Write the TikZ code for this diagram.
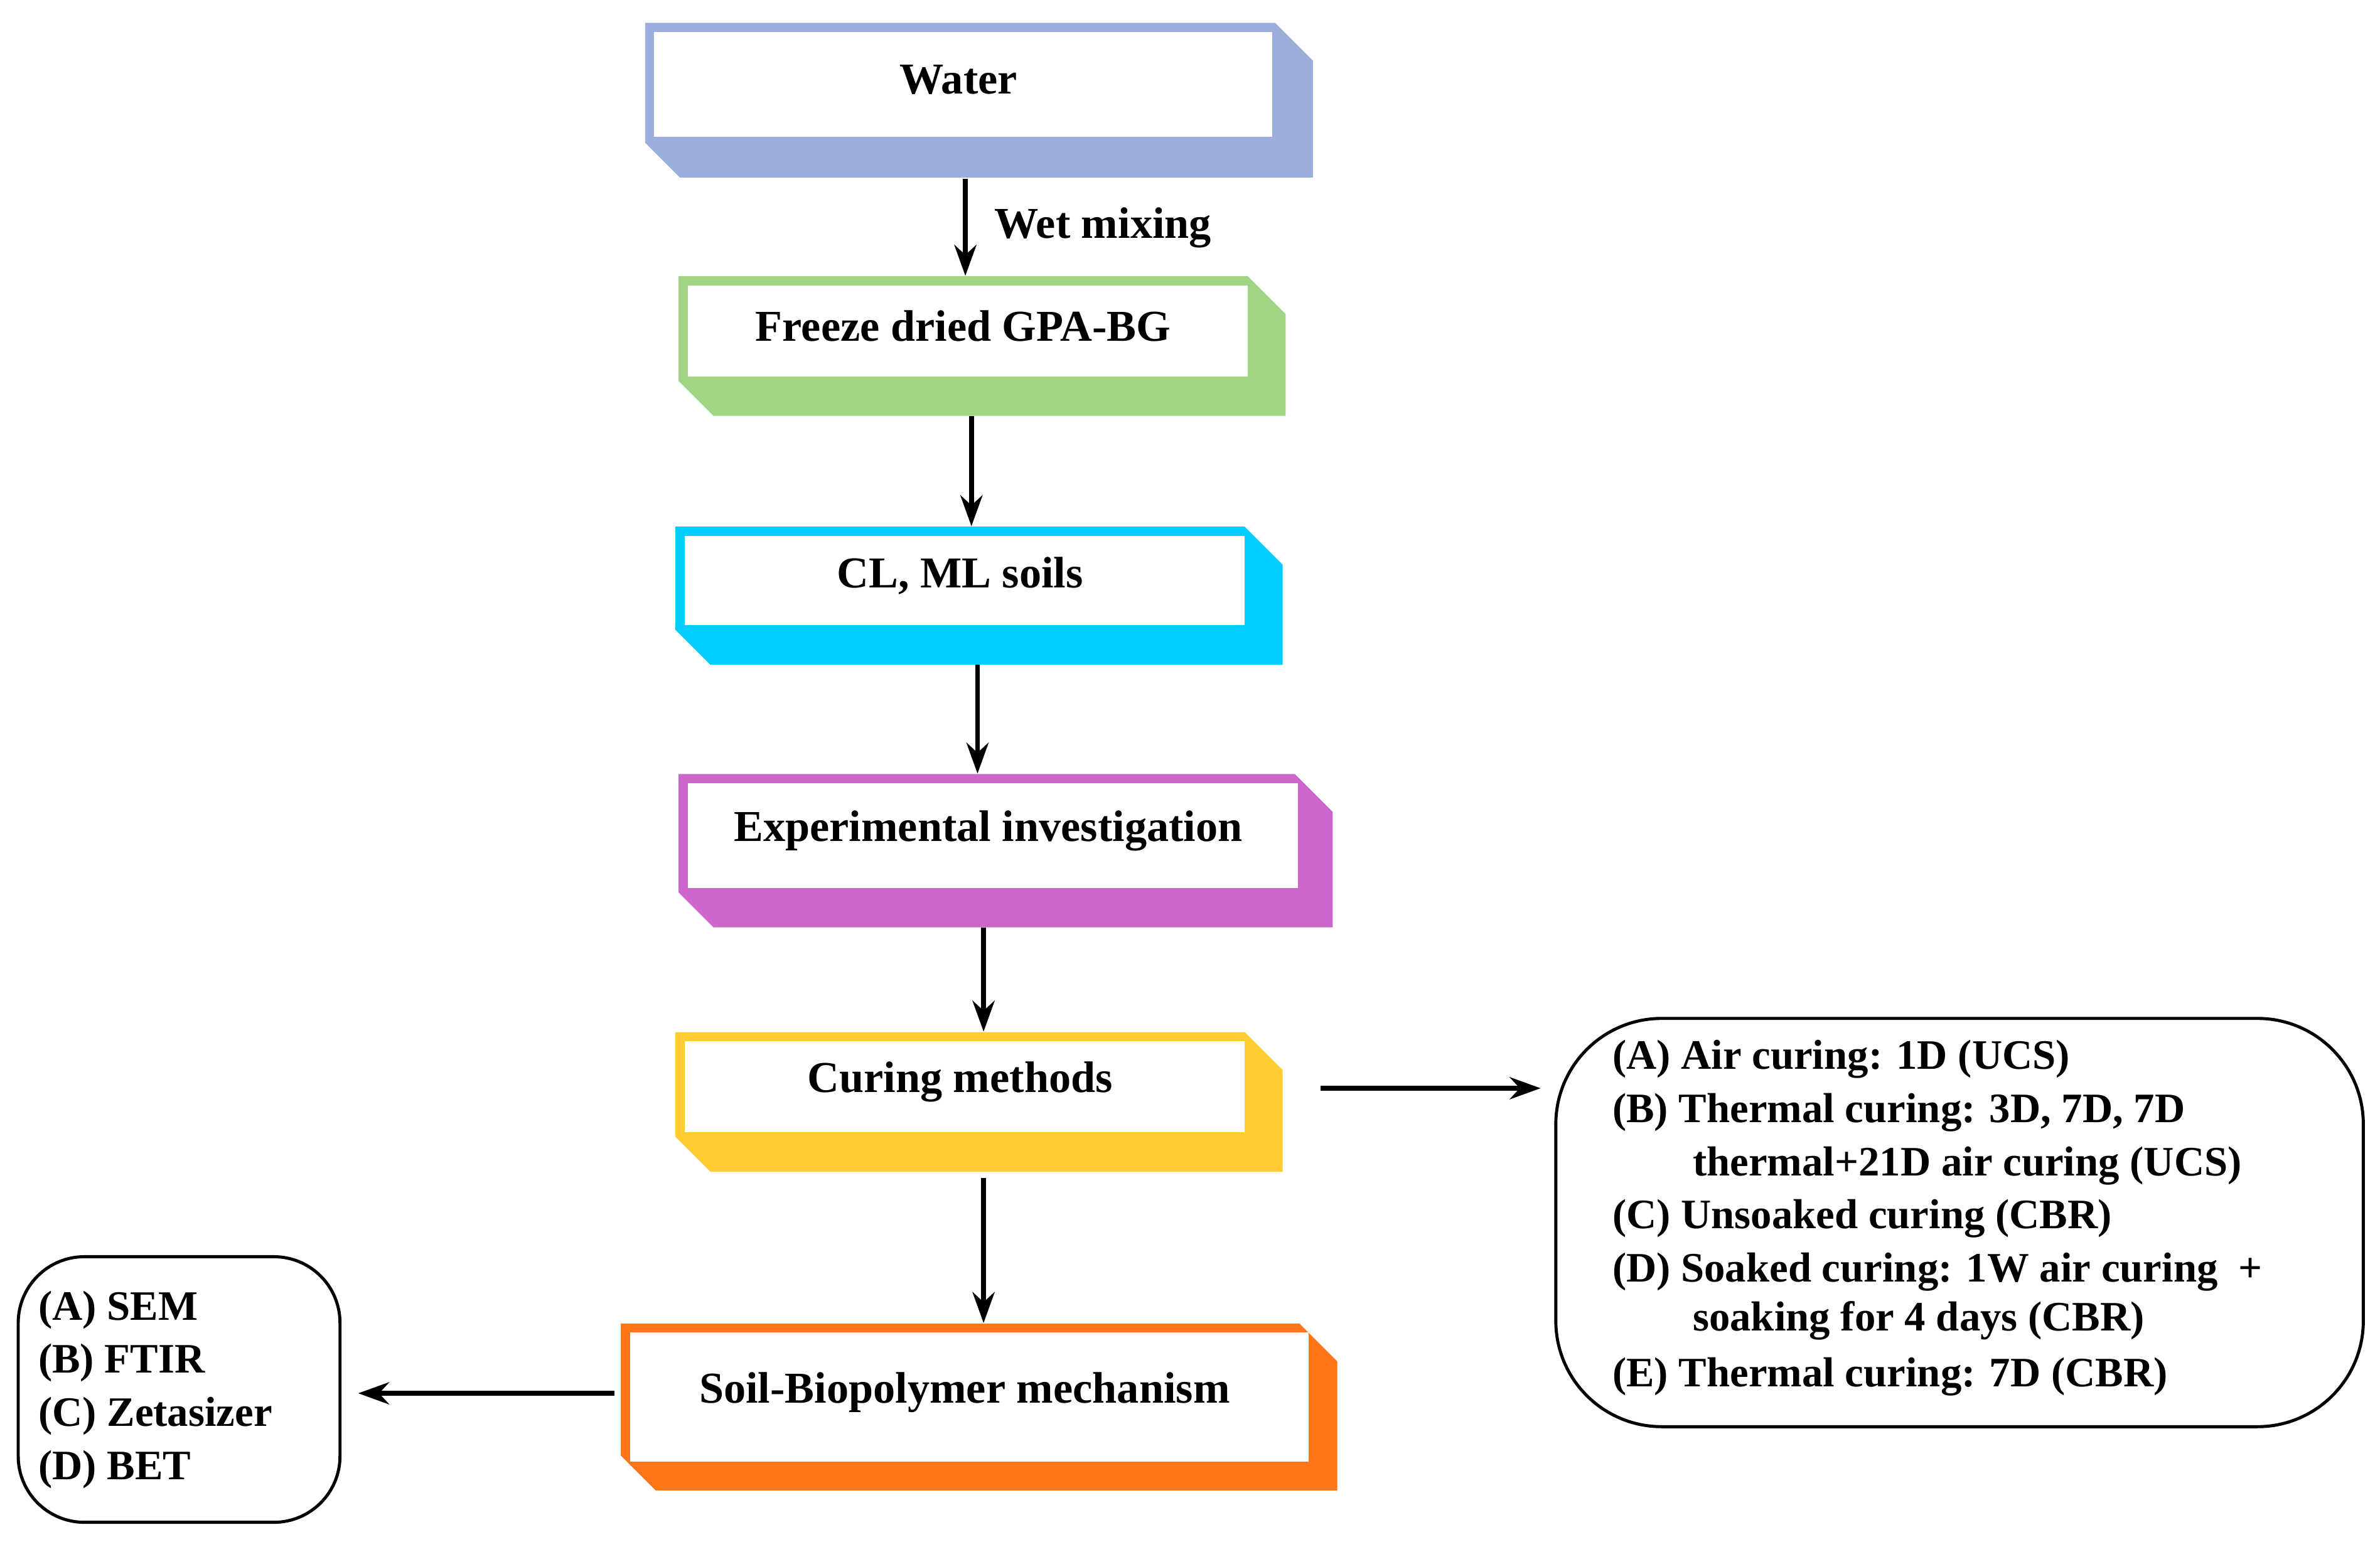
\documentclass[tikz,border=0pt]{standalone}
\usepackage{fontspec}
\setmainfont{Liberation Serif}
\usetikzlibrary{fit,arrows.meta}
\definecolor{cwater}{HTML}{9DAEDC}
\definecolor{cgreen}{HTML}{A0D683}
\definecolor{ccyan}{HTML}{00CCFF}
\definecolor{cmag}{HTML}{CC66CC}
\definecolor{cyel}{HTML}{FFCC33}
\definecolor{corange}{HTML}{FF7518}
\newcommand\bevbox[9]{%
  \fill[#2] (#3,#4)--({#5-25},#4)--(#5,{#4+25})--(#5,#6)--({#3+23},#6)--(#3,{#6-23})--cycle;
  \fill[white] ({#3+6},{#4+6}) rectangle (#7,#8);
  \node[fit={(#3,#4)(#5,#6)},inner sep=0pt] (#1) {};
  \node[txt] at ({(#3+#7)/2},{(#4+#8)/2}) {#9};
}
\begin{document}
\begin{tikzpicture}[x=0.02418cm,y=-0.02418cm,
  txt/.style={font=\bfseries\fontsize{20}{24}\selectfont},
  lst/.style={font=\bfseries\fontsize{19}{23}\selectfont,anchor=west,inner sep=0pt},
  arr/.style={line width=2.2pt,-{Stealth[length=14pt,width=10pt]}},
  rbox/.style={draw,line width=1.4pt}]
\useasboundingbox (0,0) rectangle (1568,1019);
\bevbox{water}{cwater}{425}{15}{865}{117}{838}{90}{Water}
\bevbox{freeze}{cgreen}{447}{182}{847}{274}{822}{248}{Freeze dried GPA-BG}
\bevbox{cl}{ccyan}{445}{347}{845}{438}{820}{412}{CL, ML soils}
\bevbox{exp}{cmag}{447}{510}{878}{611}{855}{585}{Experimental investigation}
\bevbox{cur}{cyel}{445}{680}{845}{772}{820}{746}{Curing methods}
\bevbox{soil}{corange}{409}{872}{881}{982}{862}{963}{Soil-Biopolymer mechanism}
\draw[rbox,rounded corners=48] (1025,671) rectangle (1557,940);
\node[fit={(1025,671)(1557,940)},inner sep=0pt] (rb) {};
\draw[rbox,rounded corners=30] (12,828) rectangle (224,1003);
\node[fit={(12,828)(224,1003)},inner sep=0pt] (lb) {};
\draw[arr] (636,118) coordinate (w1) -- (w1 |- freeze.north);
\node[txt,anchor=west] at (650,150) {Wet mixing};
\draw[arr] (640,274) coordinate (f1) -- (f1 |- cl.north);
\draw[arr] (644,438) coordinate (c1) -- (c1 |- exp.north);
\draw[arr] (648,611) coordinate (e1) -- (e1 |- cur.north);
\draw[arr] (648,776) coordinate (u1) -- (u1 |- soil.north);
\draw[arr] (870,717) coordinate (u2) -- (1015,717) coordinate (u3);
\draw[arr] (405,918) coordinate (s1) -- (236,918) coordinate (s2);
\node[lst] at (1062,698) {(A) Air curing: 1D (UCS)};
\node[lst] at (1062,733) {(B) Thermal curing: 3D, 7D, 7D};
\node[lst] at (1115,768) {thermal+21D air curing (UCS)};
\node[lst] at (1062,803) {(C) Unsoaked curing (CBR)};
\node[lst] at (1062,838) {(D) Soaked curing: 1W air curing\ \ +};
\node[lst] at (1115,870) {soaking for 4 days (CBR)};
\node[lst] at (1062,907) {(E) Thermal curing: 7D (CBR)};
\node[lst] at (25,863) {(A) SEM};
\node[lst] at (25,898) {(B) FTIR};
\node[lst] at (25,933) {(C) Zetasizer};
\node[lst] at (25,968) {(D) BET};
\end{tikzpicture}
\end{document}
